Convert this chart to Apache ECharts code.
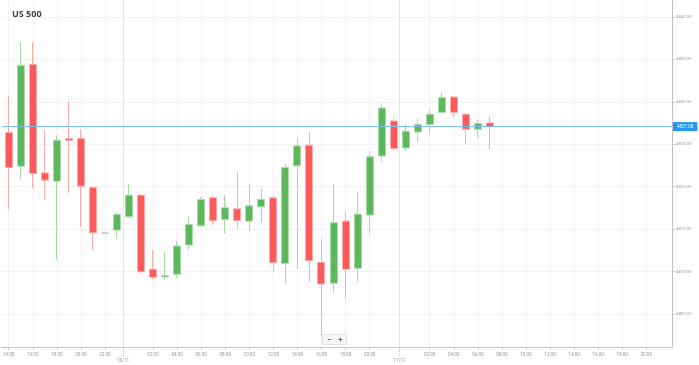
<!DOCTYPE html>
<html>
<head>
<meta charset="utf-8">
<script src="https://cdn.jsdelivr.net/npm/echarts@6/dist/echarts.min.js"></script>
<style>html,body{margin:0;padding:0;background:#fff}#c{width:699px;height:365px}</style>
</head>
<body>
<div id="c"></div>
<script>
// Hourly slots (the 23:00 hour of 16/11 is missing in the source)
const day1Hours = ['14:00','15:00','16:00','17:00','18:00','19:00','20:00','21:00','22:00','23:00'];
const day2Hours = ['00:00','01:00','02:00','03:00','04:00','05:00','06:00','07:00','08:00','09:00','10:00','11:00','12:00','13:00','14:00','15:00','16:00','17:00','18:00','19:00','20:00','21:00','22:00'];
const day3Hours = ['00:00','01:00','02:00','03:00','04:00','05:00','06:00','07:00','08:00','09:00','10:00','11:00','12:00','13:00','14:00','15:00','16:00','17:00','18:00','19:00','20:00','21:00','22:00'];
const dates = ['15/11','16/11','17/11'];

const openV  = [4826.38,4822.41,4834.41,4821.62,4820.65,4825.67,4825.67,4819.91,4814.53,4814.88,4816.45,4819.00,4810.26,4809.35,4809.67,4813.12,4815.39,4818.68,4816.14,4817.39,4815.94,4817.62,4818.68,4810.96,4822.45,4824.88,4811.08,4808.61,4815.94,4810.38,4816.65,4823.62,4827.74,4824.56,4826.45,4827.32,4828.76,4830.56,4828.53,4826.76,4827.51];
const closeV = [4822.26,4834.29,4821.55,4820.76,4825.47,4825.47,4820.06,4814.56,4814.53,4816.73,4819.00,4809.98,4809.32,4809.51,4813.00,4815.55,4818.49,4815.98,4817.51,4816.02,4817.74,4818.49,4811.04,4822.26,4824.80,4811.27,4808.53,4815.74,4810.26,4816.76,4823.51,4829.27,4824.49,4826.53,4827.32,4828.53,4830.49,4828.76,4826.76,4827.44,4827.08];
const lowV   = [4817.32,4820.85,4819.79,4818.49,4811.35,4819.27,4815.27,4812.53,4814.53,4813.82,4816.30,4809.80,4809.08,4809.08,4809.20,4812.53,4815.27,4815.47,4814.49,4815.00,4814.80,4815.82,4809.86,4808.53,4810.29,4808.80,4802.33,4807.51,4806.85,4808.80,4814.49,4823.00,4824.29,4824.18,4825.27,4826.26,4828.70,4828.21,4825.00,4825.79,4824.38];
const highV  = [4830.76,4837.04,4837.04,4826.73,4826.06,4829.98,4826.76,4819.95,4814.53,4816.90,4820.29,4819.05,4812.53,4812.33,4813.59,4816.53,4818.80,4818.92,4819.00,4821.74,4820.29,4819.79,4819.00,4822.80,4825.79,4826.45,4813.82,4820.29,4817.12,4819.27,4824.21,4829.79,4828.02,4827.44,4828.02,4829.00,4831.04,4830.60,4828.68,4827.82,4828.21];
const lastPrice = 4827.08;

const yTicks = [4805,4810,4815,4820,4825,4830,4835,4840];
const xTickKeys = ['15/11 14:00','15/11 16:00','15/11 18:00','15/11 20:00','15/11 22:00',
  '16/11 02:00','16/11 04:00','16/11 06:00','16/11 08:00','16/11 10:00','16/11 12:00','16/11 14:00','16/11 16:00','16/11 18:00','16/11 20:00',
  '17/11 02:00','17/11 04:00','17/11 06:00','17/11 08:00','17/11 10:00','17/11 12:00','17/11 14:00','17/11 16:00','17/11 18:00','17/11 20:00'];
const dateLabels = ['16/11','17/11'];

const slots = [].concat(
  day1Hours.map(h => dates[0] + ' ' + h),
  day2Hours.map(h => dates[1] + ' ' + h),
  day3Hours.map(h => dates[2] + ' ' + h)
);
const candles = openV.map((o, i) => [i, o, closeV[i], lowV[i], highV[i]]);
const xTickIdx = xTickKeys.map(k => slots.indexOf(k));
const dateIdx = dateLabels.map(d => slots.indexOf(d + ' 00:00') - 0.5);

const FONT = 'Roboto';
const chart = echarts.init(document.getElementById('c'), null, {renderer: 'canvas'});
chart.setOption({
  animation: false,
  backgroundColor: '#fff',
  title: {
    text: 'US 500', left: 7, top: 5,
    textStyle: {fontFamily: 'Open Sans', fontWeight: 'bold', fontSize: 9, color: '#444'}
  },
  grid: {left: 0, right: 27, top: 0, bottom: 18},
  xAxis: [{
    type: 'value', min: -0.58, max: 55.14, position: 'bottom',
    axisLine: {show: true, onZero: false, lineStyle: {color: '#c8c8c8', width: 1}},
    axisTick: {show: true, length: 3, lineStyle: {color: '#c8c8c8'}, customValues: xTickIdx},
    axisLabel: {
      customValues: xTickIdx, margin: 5, fontSize: 4.6, color: '#999', fontFamily: FONT,
      formatter: v => slots[Math.round(v)].split(' ')[1]
    },
    splitLine: {show: true, lineStyle: {color: '#f2f2f2', width: 1}}
  }, {
    type: 'value', min: -0.58, max: 55.14, position: 'bottom',
    axisLine: {show: false, onZero: false},
    axisTick: {show: true, length: 9, lineStyle: {color: '#bbb', type: [1, 1]}, customValues: dateIdx},
    axisLabel: {
      customValues: dateIdx, margin: 11, fontSize: 4.6, color: '#999', fontFamily: FONT,
      formatter: v => dateLabels[dateIdx.indexOf(v)] || ''
    },
    splitLine: {show: false}
  }],
  yAxis: {
    type: 'value', position: 'right', min: 4801.1, max: 4842.0, scale: true,
    axisLine: {show: true, onZero: false, lineStyle: {color: '#c0c0c0'}},
    axisTick: {show: true, length: 3, lineStyle: {color: '#c8c8c8'}, customValues: yTicks},
    axisLabel: {
      customValues: yTicks, margin: 4, fontSize: 4.3, color: '#999', fontFamily: FONT,
      formatter: v => v.toFixed(2)
    },
    splitLine: {show: true, lineStyle: {color: '#f2f2f2', width: 1}}
  },
  series: [{
    type: 'candlestick',
    xAxisIndex: 0,
    data: candles,
    encode: {x: 0, y: [1, 2, 3, 4]},
    barWidth: 7.5,
    z: 3,
    itemStyle: {
      color: '#5cb85c', color0: '#fb5a5a',
      borderColor: '#a9d9a9', borderColor0: '#ffa9a9',
      borderColorDoji: '#bdbdbd', borderWidth: 1
    },
    markLine: {
      silent: true, symbol: 'none', animation: false,
      lineStyle: {color: '#7dbdf2', width: 1, type: 'solid'},
      label: {
        show: true, position: 'end', distance: 1,
        formatter: () => lastPrice.toFixed(2),
        backgroundColor: '#2196f3', color: '#fff', fontSize: 4.5, fontFamily: FONT,
        padding: [2, 4, 2, 4]
      },
      data: [{yAxis: lastPrice}]
    }
  }, {
    type: 'line', xAxisIndex: 0, data: [], z: 1,
    markLine: {
      silent: true, symbol: 'none', animation: false, z: 1,
      lineStyle: {color: '#e4e4e4', width: 1, type: 'solid'},
      label: {show: false},
      data: dateIdx.map(v => ({xAxis: v}))
    }
  }],
  graphic: [{
    type: 'group', left: 322, top: 334,
    children: [
      {type: 'rect', shape: {x: 0, y: 0, width: 24, height: 10, r: 1}, style: {fill: '#f7f7f7', stroke: '#e0e0e0', lineWidth: 1}},
      {type: 'text', x: 7, y: 5, style: {text: '−', fontSize: 8, fill: '#666', align: 'center', verticalAlign: 'middle', fontFamily: FONT, fontWeight: 'bold'}},
      {type: 'text', x: 18, y: 5, style: {text: '+', fontSize: 8, fill: '#666', align: 'center', verticalAlign: 'middle', fontFamily: FONT, fontWeight: 'bold'}}
    ]
  }]
});
</script>
</body>
</html>
